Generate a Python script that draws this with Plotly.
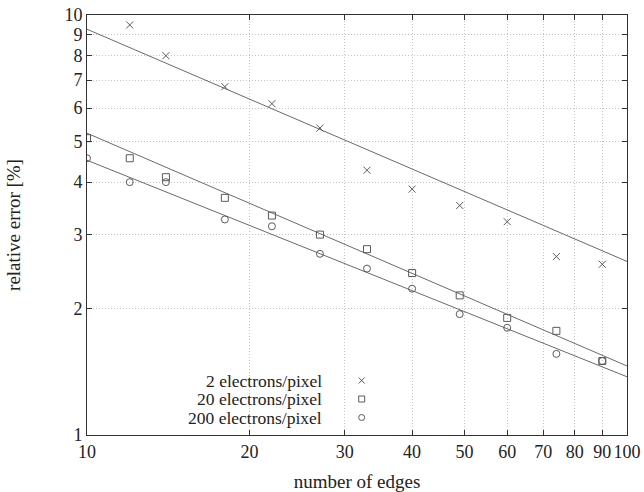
import plotly.graph_objects as go

# ---- data ----
edges_cross = [12, 14, 18, 22, 27, 33, 40, 49, 60, 74, 90]
err_2 = [9.47, 8.0, 6.75, 6.15, 5.38, 4.27, 3.85, 3.52, 3.22, 2.66, 2.55]

edges = [10, 12, 14, 18, 22, 27, 33, 40, 49, 60, 74, 90]
err_20 = [5.09, 4.56, 4.11, 3.67, 3.33, 3.0, 2.77, 2.43, 2.15, 1.90, 1.77, 1.50]
err_200 = [4.56, 4.0, 4.0, 3.26, 3.14, 2.70, 2.49, 2.23, 1.94, 1.80, 1.56, 1.50]

fit_x = [10, 100]
fit_2 = [9.25, 2.59]
fit_20 = [5.23, 1.46]
fit_200 = [4.51, 1.376]

legend_labels = ["2 electrons/pixel", "20 electrons/pixel", "200 electrons/pixel"]
x_ticks = [10, 20, 30, 40, 50, 60, 70, 80, 90, 100]
y_ticks = [1, 2, 3, 4, 5, 6, 7, 8, 9, 10]

FONT = "Liberation Serif"
MC = "#5a5a5a"
LC = "#6a6a6a"
TC = "#222"

fig = go.Figure()
for fx, fy in [(fit_x, fit_2), (fit_x, fit_20), (fit_x, fit_200)]:
    fig.add_trace(go.Scatter(x=fx, y=fy, mode="lines",
                             line=dict(color=LC, width=1), showlegend=False,
                             hoverinfo="skip"))

fig.add_trace(go.Scatter(x=edges_cross, y=err_2, mode="markers", name=legend_labels[0],
                         marker=dict(symbol="x-thin-open", size=7, color=MC,
                                     line=dict(color=MC, width=1)), showlegend=False))
fig.add_trace(go.Scatter(x=edges, y=err_20, mode="markers", name=legend_labels[1],
                         marker=dict(symbol="square-open", size=7, color=MC,
                                     line=dict(color=MC, width=1)), showlegend=False))
fig.add_trace(go.Scatter(x=edges, y=err_200, mode="markers", name=legend_labels[2],
                         marker=dict(symbol="circle-open", size=7, color=MC,
                                     line=dict(color=MC, width=1)), showlegend=False))

# legend (gnuplot style: right-aligned text, symbol on the right)
W, H = 540.0, 420.0
def px(xp):
    return (xp - 87) / W
def py(yp):
    return (435 - yp) / H

shapes = [dict(type="rect", xref="paper", yref="paper", x0=px(172), x1=px(372),
               y0=py(433), y1=py(364), fillcolor="white", line=dict(width=0),
               layer="between")]
rows = [380.5, 399, 417.5]
mx = 361.7
for lab, yr in zip(legend_labels, rows):
    fig.add_annotation(x=px(323.5), y=py(yr), xref="paper", yref="paper", text=lab,
                       showarrow=False, xanchor="right", yanchor="middle",
                       font=dict(family=FONT, size=17.5, color=TC))
h = 3
shapes += [
    dict(type="line", xref="paper", yref="paper", x0=px(mx - h), x1=px(mx + h),
         y0=py(rows[0] - h), y1=py(rows[0] + h), line=dict(color=MC, width=1)),
    dict(type="line", xref="paper", yref="paper", x0=px(mx - h), x1=px(mx + h),
         y0=py(rows[0] + h), y1=py(rows[0] - h), line=dict(color=MC, width=1)),
    dict(type="rect", xref="paper", yref="paper", x0=px(mx - h), x1=px(mx + h),
         y0=py(rows[1] - h), y1=py(rows[1] + h), line=dict(color=MC, width=1)),
    dict(type="circle", xref="paper", yref="paper", x0=px(mx - h), x1=px(mx + h),
         y0=py(rows[2] - h), y1=py(rows[2] + h), line=dict(color=MC, width=1)),
]

axis_common = dict(showline=True, linecolor="#333", linewidth=1, mirror="ticks",
                   ticks="inside", ticklen=5, tickcolor="#333", showgrid=True,
                   gridcolor="#c4c4c4", griddash="1px,2px", gridwidth=1, zeroline=False,
                   automargin=False,
                   tickfont=dict(family=FONT, size=18, color=TC))

fig.update_layout(
    width=644, height=492,
    margin=dict(l=87, r=17, t=15, b=57),
    paper_bgcolor="white", plot_bgcolor="white",
    shapes=shapes,
    xaxis=dict(type="log", range=[1, 2], tickvals=x_ticks,
               ticktext=[str(v) for v in x_ticks],
               title=dict(text="number of edges", font=dict(family=FONT, size=19, color=TC),
                          standoff=22),
               **axis_common),
    yaxis=dict(type="log", range=[0, 1], tickvals=y_ticks,
               ticktext=[str(v) for v in y_ticks],
               title=dict(text="relative error [%]", font=dict(family=FONT, size=19, color=TC),
                          standoff=38),
               **axis_common),
)

fig.write_html("out.html")
